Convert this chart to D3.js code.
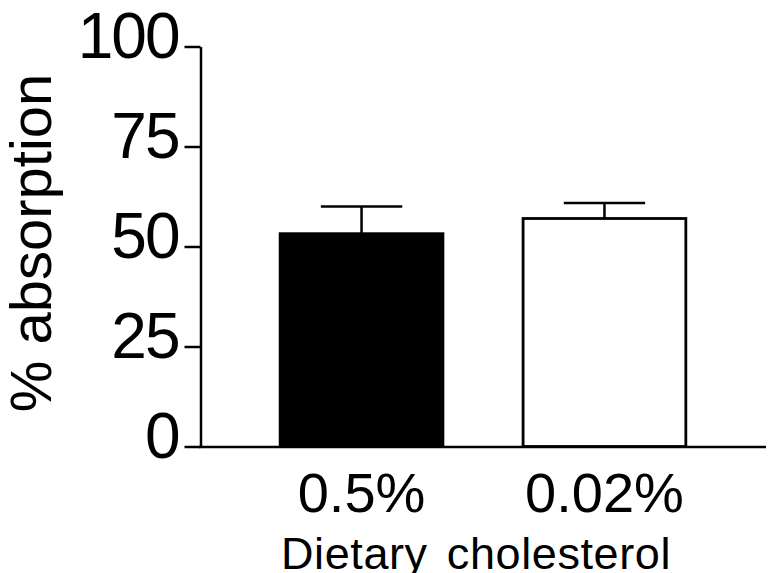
<!DOCTYPE html>
<html>
<head>
<meta charset="utf-8">
<script src="https://cdn.jsdelivr.net/npm/d3@7"></script>
<style>
  html, body { margin: 0; padding: 0; background: #fff; }
  svg { display: block; }
  text { font-family: "Liberation Sans", Arial, Helvetica, sans-serif; fill: #000; }
</style>
</head>
<body>
<svg id="chart" width="773" height="573"></svg>
<script>
const categories = ["0.5%", "0.02%"];
const means = [53.2, 57.0];
const errors = [6.8, 3.9];
const fills = ["#000000", "#ffffff"];
const yTicks = [0, 25, 50, 75, 100];
const yLabel = "% absorption";
const xLabel = "Dietary cholesterol";

const svg = d3.select("#chart");
const x = d3.scaleBand().domain(categories).range([200, 766]).paddingInner(0.33).paddingOuter(0.33);
const y = d3.scaleLinear().domain([0, 100]).range([446.5, 46.5]);

// bars
svg.selectAll("rect.bar").data(categories).join("rect")
  .attr("class", "bar")
  .attr("x", d => x(d))
  .attr("width", x.bandwidth())
  .attr("y", (d, i) => y(means[i]))
  .attr("height", (d, i) => y(0) - y(means[i]))
  .attr("fill", (d, i) => fills[i])
  .attr("stroke", "#000")
  .attr("stroke-width", 2.8);

// error bars (upper only)
const eb = svg.selectAll("g.eb").data(categories).join("g").attr("class", "eb");
eb.append("line")
  .attr("x1", d => x(d) + x.bandwidth() / 2)
  .attr("x2", d => x(d) + x.bandwidth() / 2)
  .attr("y1", (d, i) => y(means[i]))
  .attr("y2", (d, i) => y(means[i] + errors[i]))
  .attr("stroke", "#000").attr("stroke-width", 2.5);
eb.append("line")
  .attr("x1", d => x(d) + x.bandwidth() / 4)
  .attr("x2", d => x(d) + x.bandwidth() * 3 / 4)
  .attr("y1", (d, i) => y(means[i] + errors[i]))
  .attr("y2", (d, i) => y(means[i] + errors[i]))
  .attr("stroke", "#000").attr("stroke-width", 2.5);

// y axis
const yAxis = d3.axisLeft(y).tickValues(yTicks).tickSize(16).tickPadding(6).tickSizeOuter(0);
const gy = svg.append("g").attr("transform", "translate(200.5,0)").call(yAxis);
gy.select(".domain").attr("stroke", "#000").attr("stroke-width", 2.5);
gy.selectAll(".tick line").attr("stroke", "#000").attr("stroke-width", 2.5);
gy.selectAll(".tick text")
  .attr("font-size", 64)
  .attr("letter-spacing", -2)
  .attr("font-family", "'Liberation Sans', Arial, sans-serif")
  .attr("dy", 10.5)
  .attr("fill", "#000");

// x axis
const xAxis = d3.axisBottom(x).tickSize(0).tickPadding(26).tickSizeOuter(0);
const gx = svg.append("g").attr("transform", "translate(0,447)").call(xAxis);
gx.select(".domain").attr("stroke", "#000").attr("stroke-width", 2.5).attr("d", "M199,0H766");
gx.selectAll(".tick text")
  .attr("font-size", 56)
  .attr("font-family", "'Liberation Sans', Arial, sans-serif")
  .attr("fill", "#000")
  .attr("dy", 0)
  .attr("y", 65);

// axis titles
svg.append("text")
  .attr("x", 476).attr("y", 569)
  .attr("text-anchor", "middle")
  .attr("font-size", 45)
  .attr("letter-spacing", 0.6)
  .attr("word-spacing", 6)
  .text(xLabel);

svg.append("text")
  .attr("transform", "translate(51,243) rotate(-90)")
  .attr("text-anchor", "middle")
  .attr("font-size", 58)
  .text(yLabel);
</script>
</body>
</html>
